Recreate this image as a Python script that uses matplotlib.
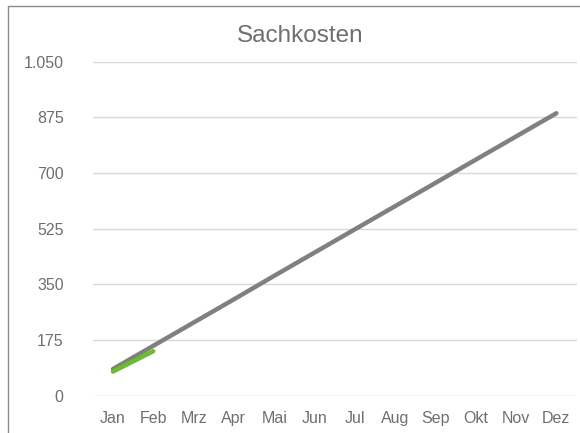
import matplotlib
matplotlib.use("Agg")
import matplotlib.pyplot as plt
from matplotlib.patches import Rectangle
from matplotlib.ticker import FuncFormatter

months = ["Jan", "Feb", "Mrz", "Apr", "Mai", "Jun", "Jul", "Aug", "Sep", "Okt", "Nov", "Dez"]
plan = [84, 157, 230, 303, 377, 450, 523, 596, 669, 742, 815, 888]
actual = [76, 140]
yticks = [0, 175, 350, 525, 700, 875, 1050]

plt.rcParams['font.family'] = ['Liberation Sans', 'DejaVu Sans']
text_color = "#6f6f6f"

fig = plt.figure(figsize=(5.8, 4.33), dpi=100)
ax = fig.add_axes([0.16, 0.086, 0.834, 0.7715])

x = list(range(len(months)))
ax.plot(x, plan, color="#808080", lw=3.2, solid_capstyle="round", zorder=3)
ax.plot(x[:len(actual)], actual, color="#6cbd2e", lw=3.2, solid_capstyle="round", zorder=4)

ax.set_xlim(-0.5, len(months) - 0.5)
ax.set_ylim(0, 1050)
ax.set_yticks(yticks)
ax.yaxis.set_major_formatter(FuncFormatter(lambda v, p: f"{int(v):,}".replace(",", ".")))
ax.set_xticks(x)
ax.set_xticklabels(months)
ax.grid(axis="y", color="#d9d9d9", lw=1.0)
ax.set_axisbelow(True)
for s in ax.spines.values():
    s.set_visible(False)
ax.tick_params(axis="both", length=0, colors=text_color, labelsize=11.5)
ax.tick_params(axis="y", pad=21)
ax.tick_params(axis="x", pad=11)

fig.text(0.517, 0.918, "Sachkosten", ha="center", va="center", fontsize=17.5, color=text_color)

fig.patches.append(Rectangle((7.5 / 580, -0.1), 1.2, 1.1 - 5.5 / 433, transform=fig.transFigure,
                             fill=False, edgecolor="#8c8c8c", lw=1.0))

fig.savefig("out.png", dpi=100)
